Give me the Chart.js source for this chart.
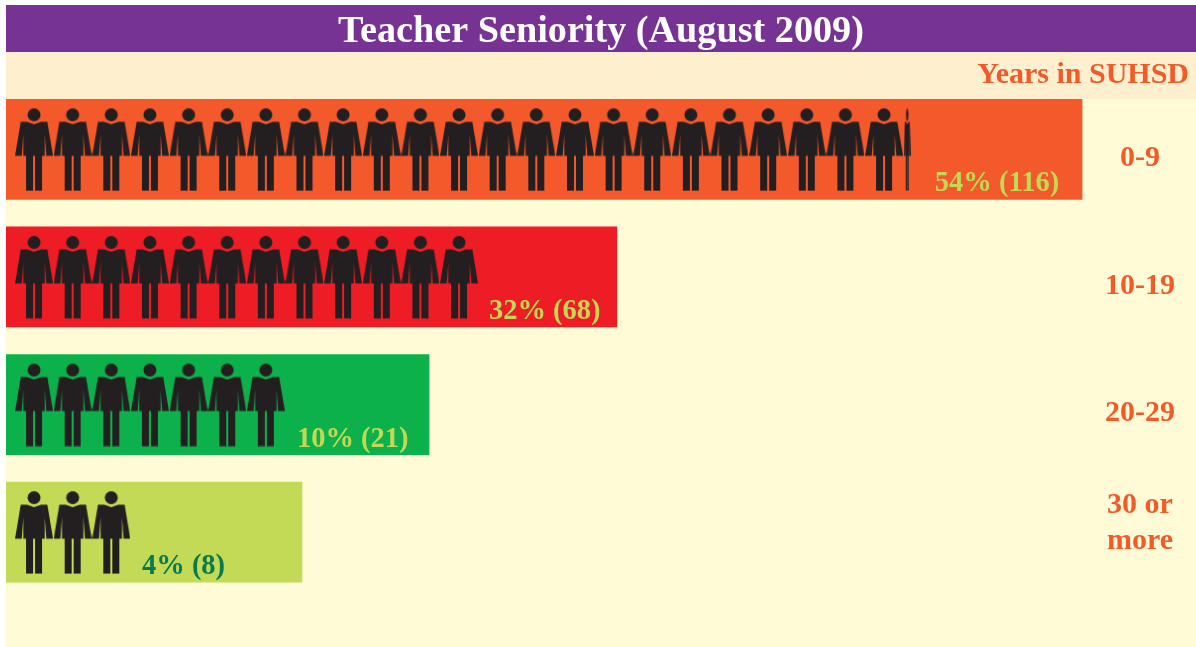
<!DOCTYPE html>
<html>
<head>
<meta charset="utf-8">
<title>Teacher Seniority</title>
<script src="https://cdn.jsdelivr.net/npm/chart.js@4"></script>
<style>
    html, body { margin: 0; padding: 0; background: #fff; }
    canvas { display: block; }
</style>
</head>
<body>
<canvas id="chart" width="1196" height="647"></canvas>
<script>
// Year bands, top to bottom. The last one breaks over two lines
const categories = ['0-9', '10-19', '20-29', '30 or more'];
const tickLabels = ['0-9', '10-19', '20-29', ['30 or', 'more', '']];
// Bar lengths and figures are both read in "figure widths" from the picture
const barLengths = [27.85, 15.81, 10.95, 7.66];
const figureCounts = [23.2, 12, 7, 3];
const valueLabels = ['54% (116)', '32% (68)', '10% (21)', '4% (8)'];
const valueLabelAt = [24.04, 12.5, 7.53, 3.52];
const barColors = ['#F3592A', '#EE1C25', '#0DB14B', '#C2DA55'];
const valueLabelColors = ['#C3D955', '#C3D955', '#C3D955', '#0A7A4C'];

const serif = "'Liberation Serif', serif";
const FIGURE_OFFSET = 0.725; // centre of the first figure, from the bar start

// Draw one person into its own canvas, used as the point style
function makeFigure(width) {
    const c = document.createElement('canvas');
    c.width = width;
    c.height = 84;
    const g = c.getContext('2d');
    g.scale(width / 38, 1);
    g.fillStyle = '#231F20';
    g.beginPath();
    g.arc(19, 7.5, 6.5, 0, Math.PI * 2);
    g.fill();
    // shoulders, arms and torso
    g.beginPath();
    const side = [[12, 14.5], [5.7, 14.5], [0, 48.5], [6.7, 48.5], [8.3, 27], [8.3, 48.5], [11, 48.5]];
    side.forEach(p => g.lineTo(p[0], p[1]));
    side.slice().reverse().forEach(p => g.lineTo(38 - p[0], p[1]));
    g.lineTo(19, 17);
    g.closePath();
    g.fill();
    // legs
    g.fillRect(11, 48, 7, 35.5);
    g.fillRect(20, 48, 7, 35.5);
    return c;
}

// Whole figures get a point each, a leftover fraction gets one narrow figure
const wholePoints = [];
const partPoints = [];
figureCounts.forEach((count, row) => {
    const whole = Math.floor(count);
    for (let i = 0; i < whole; i++) {
        wholePoints.push({ x: FIGURE_OFFSET + i, y: categories[row] });
    }
    const part = count - whole;
    if (part > 0) {
        partPoints.push({ x: FIGURE_OFFSET + whole - 0.5 + part / 2, y: categories[row] });
    }
});

// Page bands behind the chart
const backgroundBands = {
    id: 'backgroundBands',
    beforeDraw(chart) {
        const ctx = chart.ctx;
        ctx.save();
        ctx.fillStyle = '#fff';
        ctx.fillRect(0, 0, 1196, 647);
        ctx.fillStyle = '#FFFBD7';
        ctx.fillRect(6, 52, 1190, 595);
        ctx.fillStyle = '#FEEFCF';
        ctx.fillRect(6, 52, 1190, 47);
        ctx.fillStyle = '#763393';
        ctx.fillRect(6, 5, 1190, 47);
        ctx.restore();
    }
};

// Value text in the lower right of each bar
const valueText = {
    id: 'valueText',
    afterDatasetsDraw(chart) {
        const ctx = chart.ctx;
        const xScale = chart.scales.x;
        const yScale = chart.scales.y;
        ctx.save();
        ctx.font = 'bold 28.5px ' + serif;
        ctx.textBaseline = 'alphabetic';
        ctx.textAlign = 'left';
        valueLabels.forEach((label, i) => {
            ctx.fillStyle = valueLabelColors[i];
            ctx.fillText(label, xScale.getPixelForValue(valueLabelAt[i]), yScale.getPixelForValue(i) + 42);
        });
        ctx.restore();
    }
};

// The subtitle stops a few pixels short of the right edge
const subtitleInset = {
    id: 'subtitleInset',
    afterLayout(chart) {
        const box = chart.boxes.find(b => b.options && b.options.text === 'Years in SUHSD');
        if (box) {
            box.right -= 7;
        }
    }
};

new Chart(document.getElementById('chart'), {
    type: 'bar',
    data: {
        labels: categories,
        datasets: [
            {
                type: 'scatter',
                data: wholePoints,
                pointStyle: makeFigure(38),
                pointRadius: 10,
                order: 0
            },
            {
                type: 'scatter',
                data: partPoints,
                pointStyle: makeFigure(7),
                pointRadius: 10,
                order: 0
            },
            {
                type: 'bar',
                indexAxis: 'y',
                data: barLengths,
                backgroundColor: barColors,
                barThickness: 100,
                order: 1
            }
        ]
    },
    options: {
        responsive: false,
        animation: false,
        layout: { autoPadding: false, padding: { left: 6, right: 0, top: 0, bottom: 51 } },
        scales: {
            x: { type: 'linear', min: 0, max: 27.9, offset: false, display: false },
            y: {
                type: 'category',
                position: 'right',
                offset: true,
                labels: categories,
                border: { display: false },
                grid: { display: false, drawTicks: false },
                afterFit(scale) {
                    scale.width = 112;
                    // tick text sits a little below the bar centres
                    const pixelForTick = scale.getPixelForTick;
                    scale.getPixelForTick = i => pixelForTick.call(scale, i) + 9;
                },
                ticks: {
                    padding: 21,
                    crossAlign: 'center',
                    autoSkip: false,
                    color: '#F15A29',
                    font: { family: serif, weight: 'bold', size: 30, lineHeight: 1.2 },
                    callback: (value, index) => tickLabels[index]
                }
            }
        },
        plugins: {
            legend: { display: false },
            tooltip: { enabled: false },
            title: {
                display: true,
                text: 'Teacher Seniority (August 2009)',
                color: '#fff',
                font: { family: serif, weight: 'bold', size: 38.2, lineHeight: 1 },
                padding: { top: 13, bottom: 0.8 }
            },
            subtitle: {
                display: true,
                text: 'Years in SUHSD',
                align: 'end',
                color: '#F15A29',
                font: { family: serif, weight: 'bold', size: 30, lineHeight: 1 },
                padding: { top: 8, bottom: -4.5 }
            }
        }
    },
    plugins: [backgroundBands, valueText, subtitleInset]
});
</script>
</body>
</html>
